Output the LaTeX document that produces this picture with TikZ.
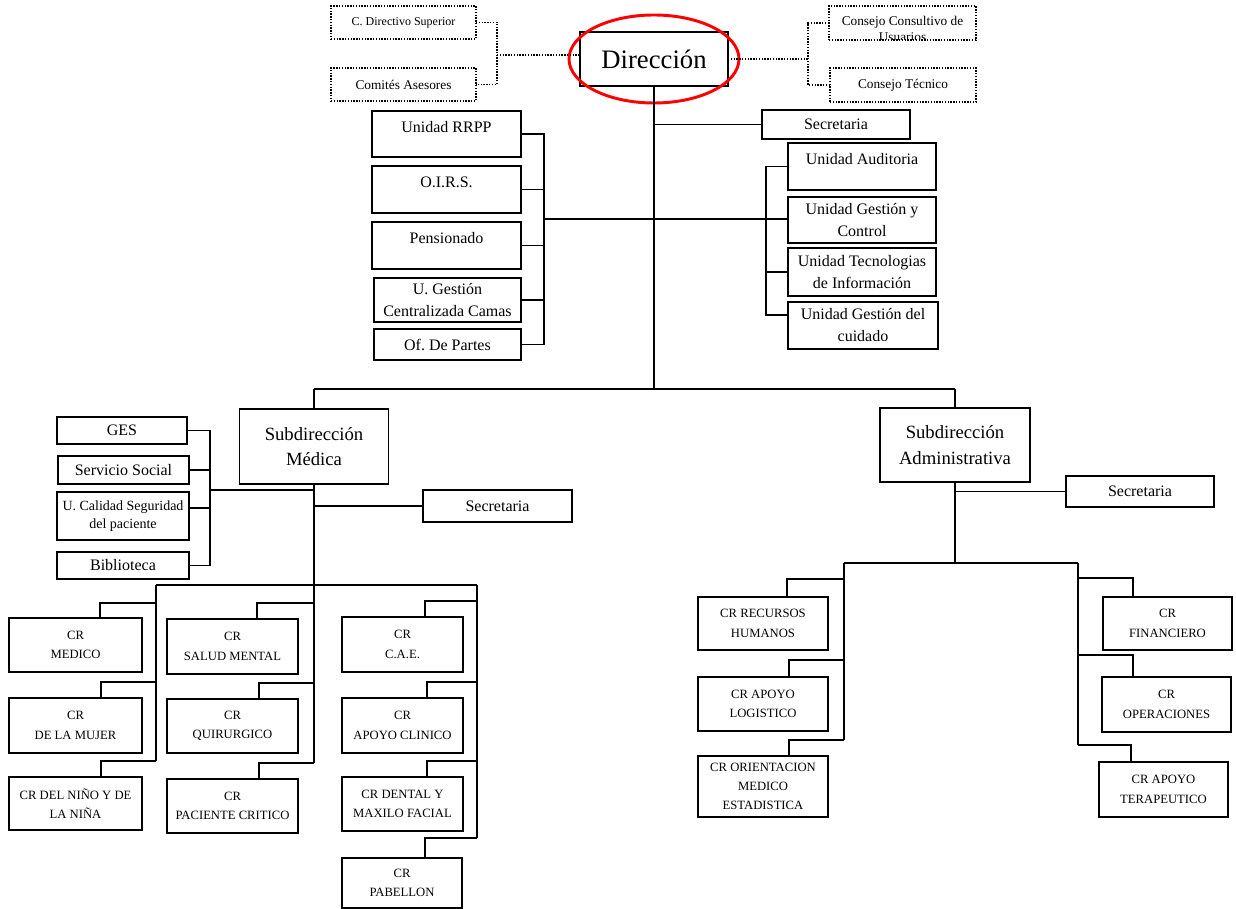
\documentclass[tikz,border=0pt]{standalone}
\usepackage{fontspec}
\setmainfont{Liberation Serif}
\frenchspacing
\tikzset{
  box/.style={draw, line width=1.1pt, inner sep=1pt, outer sep=0pt, align=center, font=\fontsize{12}{16.5}\selectfont},
  hibox/.style={box, text height=9pt, text depth=11.5pt},
  crbox/.style={box, font=\fontsize{9.5}{14.5}\selectfont},
  dotbox/.style={box, densely dotted, font=\fontsize{10}{12}\selectfont},
  subbox/.style={box, font=\fontsize{14}{19}\selectfont},
  boxsize/.style 2 args={minimum width=#1*0.75pt, minimum height=#2*0.75pt},
  link/.style={line width=1.1pt},
  dotlink/.style={line width=1.1pt, densely dotted},
}
\begin{document}
\begin{tikzpicture}[x=0.75pt,y=-0.75pt]
\useasboundingbox (0,0) rectangle (1236,909);
\node [dotbox, boxsize={145}{33}, font=\fontsize{9}{11}\selectfont] (cds) at (403.5,22.5) {C. Directivo Superior};
\node [dotbox, boxsize={145}{33}] (cas) at (403.5,84.5) {Comités Asesores};
\node [box, boxsize={148}{54}, font=\fontsize{20}{24}\selectfont] (dir) at (654,59) {Dirección};
\node [dotbox, boxsize={147}{34}, path picture={\node [draw=none, anchor=north, inner sep=0pt, align=center, font=\fontsize{10}{12}\selectfont] (ccutxt) at ([yshift=-4.5pt]path picture bounding box.north) {Consejo Consultivo de\\Usuarios};}] (ccu) at (902.5,23) {};
\node [dotbox, boxsize={146}{34}] (cte) at (903,85) {Consejo Técnico};
\draw [red, line width=2.2pt] (dir.center) ellipse [x radius=85, y radius=44];

\node [hibox, boxsize={149}{46}] (rrpp) at (446.5,134) {Unidad RRPP};
\node [hibox, boxsize={149}{47}] (oirs) at (446.5,189.5) {O.I.R.S.};
\node [hibox, boxsize={149}{47}] (pens) at (446.5,245.5) {Pensionado};
\node [box, boxsize={147}{44}] (ugcc) at (447.5,300) {U. Gestión\\Centralizada Camas};
\node [box, boxsize={147}{31}] (ofp) at (447.5,344.5) {Of. De Partes};
\node [box, boxsize={148}{29}] (sec) at (836,124.5) {Secretaria};
\node [hibox, boxsize={148}{47}] (uaud) at (862,166.5) {Unidad Auditoria};
\node [box, boxsize={148}{46}] (ugc) at (862,220) {Unidad Gestión y\\Control};
\node [box, boxsize={148}{48}] (uti) at (862,272) {Unidad Tecnologias\\de Información};
\node [box, boxsize={150}{47}] (ugcu) at (863,325.5) {Unidad Gestión del\\cuidado};

\node [subbox, boxsize={149}{75}] (smed) at (314,446.5) {Subdirección\\Médica};
\node [subbox, boxsize={150}{74}] (sadm) at (955,445) {Subdirección\\Administrativa};
\node [box, boxsize={130}{27}] (ges) at (122,430.5) {GES};
\node [box, boxsize={131}{28}] (ssoc) at (123.5,470) {Servicio Social};
\node [box, boxsize={132}{48}, font=\fontsize{10.5}{14}\selectfont] (ucal) at (123,516) {U. Calidad Seguridad\\del paciente};
\node [box, boxsize={132}{27}] (bib) at (123,565.5) {Biblioteca};
\node [box, boxsize={149}{32}] (secmed) at (497.5,506) {Secretaria};
\node [box, boxsize={148}{31}] (secadm) at (1140,491.5) {Secretaria};

\node [crbox, boxsize={133}{54}] (crmed) at (75.5,645) {CR\\MEDICO};
\node [crbox, boxsize={133}{55}] (crmuj) at (75.5,725.5) {CR\\DE LA MUJER};
\node [crbox, boxsize={133}{53}] (crnin) at (75.5,803.5) {CR DEL NIÑO Y DE\\LA NIÑA};
\node [crbox, boxsize={131}{55}] (crsm) at (232.5,646.5) {CR\\SALUD MENTAL};
\node [crbox, boxsize={131}{54}] (crqui) at (232.5,726) {CR\\QUIRURGICO};
\node [crbox, boxsize={131}{54}] (crpc) at (232.5,806) {CR\\PACIENTE CRITICO};
\node [crbox, boxsize={121}{55}] (crcae) at (402.5,644.5) {CR\\C.A.E.};
\node [crbox, boxsize={121}{55}] (crac) at (402.5,725.5) {CR\\APOYO CLINICO};
\node [crbox, boxsize={121}{54}] (crdent) at (402.5,804) {CR DENTAL Y\\MAXILO FACIAL};
\node [crbox, boxsize={120}{50}] (crpab) at (402,883) {CR\\PABELLON};
\node [crbox, boxsize={130}{53}] (crrh) at (763,623.5) {CR RECURSOS\\HUMANOS};
\node [crbox, boxsize={130}{54}] (crlog) at (763,704) {CR APOYO\\LOGISTICO};
\node [crbox, boxsize={130}{61}] (crori) at (763,786.5) {CR ORIENTACION\\MEDICO\\ESTADISTICA};
\node [crbox, boxsize={129}{53}] (crfin) at (1167.5,623.5) {CR\\FINANCIERO};
\node [crbox, boxsize={129}{55}] (crop) at (1166.5,704.5) {CR\\OPERACIONES};
\node [crbox, boxsize={129}{55}] (crter) at (1163.5,789.5) {CR APOYO\\TERAPEUTICO};

\coordinate (dl) at (497,55);
\coordinate (dr) at (808,57);
\draw [dotlink] (cds.east) -- (cds.east -| dl) -- (cas.east -| dl) -- (cas.east);
\draw [dotlink] (dl) -- (dl -| dir.west);
\draw [dotlink] (dir.east) -- (dir.east -| dr);
\draw [dotlink] (ccu.west) -- (ccu.west -| dr) -- (cte.west -| dr) -- (cte.west);

\coordinate (jl) at (544,219);
\coordinate (jr) at (766,219);
\coordinate (r4) at (766,315);
\coordinate (tb1) at (314,389);
\coordinate (tb2) at (955,389);
\draw [link] (dir.south) -- (dir.south |- tb1);
\draw [link] (sec.west -| dir.south) -- (sec.west);
\draw [link] (rrpp.east) -- (rrpp.east -| jl) -- (ofp.east -| jl) -- (ofp.east);
\draw [link] (oirs.east) -- (oirs.east -| jl);
\draw [link] (pens.east) -- (pens.east -| jl);
\draw [link] (ugcc.east) -- (ugcc.east -| jl);
\draw [link] (jl) -- (jr) -- (jr -| ugc.west);
\draw [link] (uaud.west) -- (uaud.west -| jr) -- (r4) -- (r4 -| ugcu.west);
\draw [link] (uti.west) -- (uti.west -| jr);
\draw [link] (tb1) -- (tb2);
\draw [link] (tb1) -- (smed.north);
\draw [link] (tb2) -- (sadm.north);

\coordinate (gq) at (210,490);
\coordinate (q3) at (210,508);
\draw [link] (ges.east) -- (ges.east -| gq) -- (bib.east -| gq) -- (bib.east);
\draw [link] (ssoc.east) -- (ssoc.east -| gq);
\draw [link] (q3 -| ucal.east) -- (q3);
\draw [link] (gq) -- (gq -| smed.south);
\draw [link] (secmed.west -| smed.south) -- (secmed.west);

\coordinate (mb1) at (156,585);
\coordinate (mb3) at (477,585);
\coordinate (s11) at (100,603);
\coordinate (s12) at (101,682);
\coordinate (s13) at (101,761);
\coordinate (s21) at (257,603);
\coordinate (s22) at (259,683);
\coordinate (s23) at (259,763);
\coordinate (s31) at (425,601);
\coordinate (s32) at (427,682);
\coordinate (s33) at (427,761);
\coordinate (s34) at (425,838);
\draw [link] (mb1) -- (mb3);
\draw [link] (smed.south) -- (smed.south |- s23);
\draw [link] (mb1) -- (mb1 |- s13);
\draw [link] (mb3) -- (mb3 |- s34);
\draw [link] (s11 -| mb1) -- (s11) -- (s11 |- crmed.north);
\draw [link] (s12 -| mb1) -- (s12) -- (s12 |- crmuj.north);
\draw [link] (s13 -| mb1) -- (s13) -- (s13 |- crnin.north);
\draw [link] (s21 -| smed.south) -- (s21) -- (s21 |- crsm.north);
\draw [link] (s22 -| smed.south) -- (s22) -- (s22 |- crqui.north);
\draw [link] (s23 -| smed.south) -- (s23) -- (s23 |- crpc.north);
\draw [link] (s31 -| mb3) -- (s31) -- (s31 |- crcae.north);
\draw [link] (s32 -| mb3) -- (s32) -- (s32 |- crac.north);
\draw [link] (s33 -| mb3) -- (s33) -- (s33 |- crdent.north);
\draw [link] (s34 -| mb3) -- (s34) -- (s34 |- crpab.north);

\coordinate (ab1) at (844,563);
\coordinate (ab2) at (1078,563);
\coordinate (t11) at (787,579);
\coordinate (t12) at (789,660);
\coordinate (t13) at (789,740);
\coordinate (t21) at (1133,578);
\coordinate (t22) at (1133,655);
\coordinate (t23) at (1131,745);
\draw [link] (secadm.west -| sadm.south) -- (secadm.west);
\draw [link] (sadm.south) -- (sadm.south |- ab1);
\draw [link] (ab1) -- (ab2);
\draw [link] (ab1) -- (ab1 |- t13);
\draw [link] (ab2) -- (ab2 |- t23);
\draw [link] (t11 -| ab1) -- (t11) -- (t11 |- crrh.north);
\draw [link] (t12 -| ab1) -- (t12) -- (t12 |- crlog.north);
\draw [link] (t13 -| ab1) -- (t13) -- (t13 |- crori.north);
\draw [link] (t21 -| ab2) -- (t21) -- (t21 |- crfin.north);
\draw [link] (t22 -| ab2) -- (t22) -- (t22 |- crop.north);
\draw [link] (t23 -| ab2) -- (t23) -- (t23 |- crter.north);
\end{tikzpicture}
\end{document}
